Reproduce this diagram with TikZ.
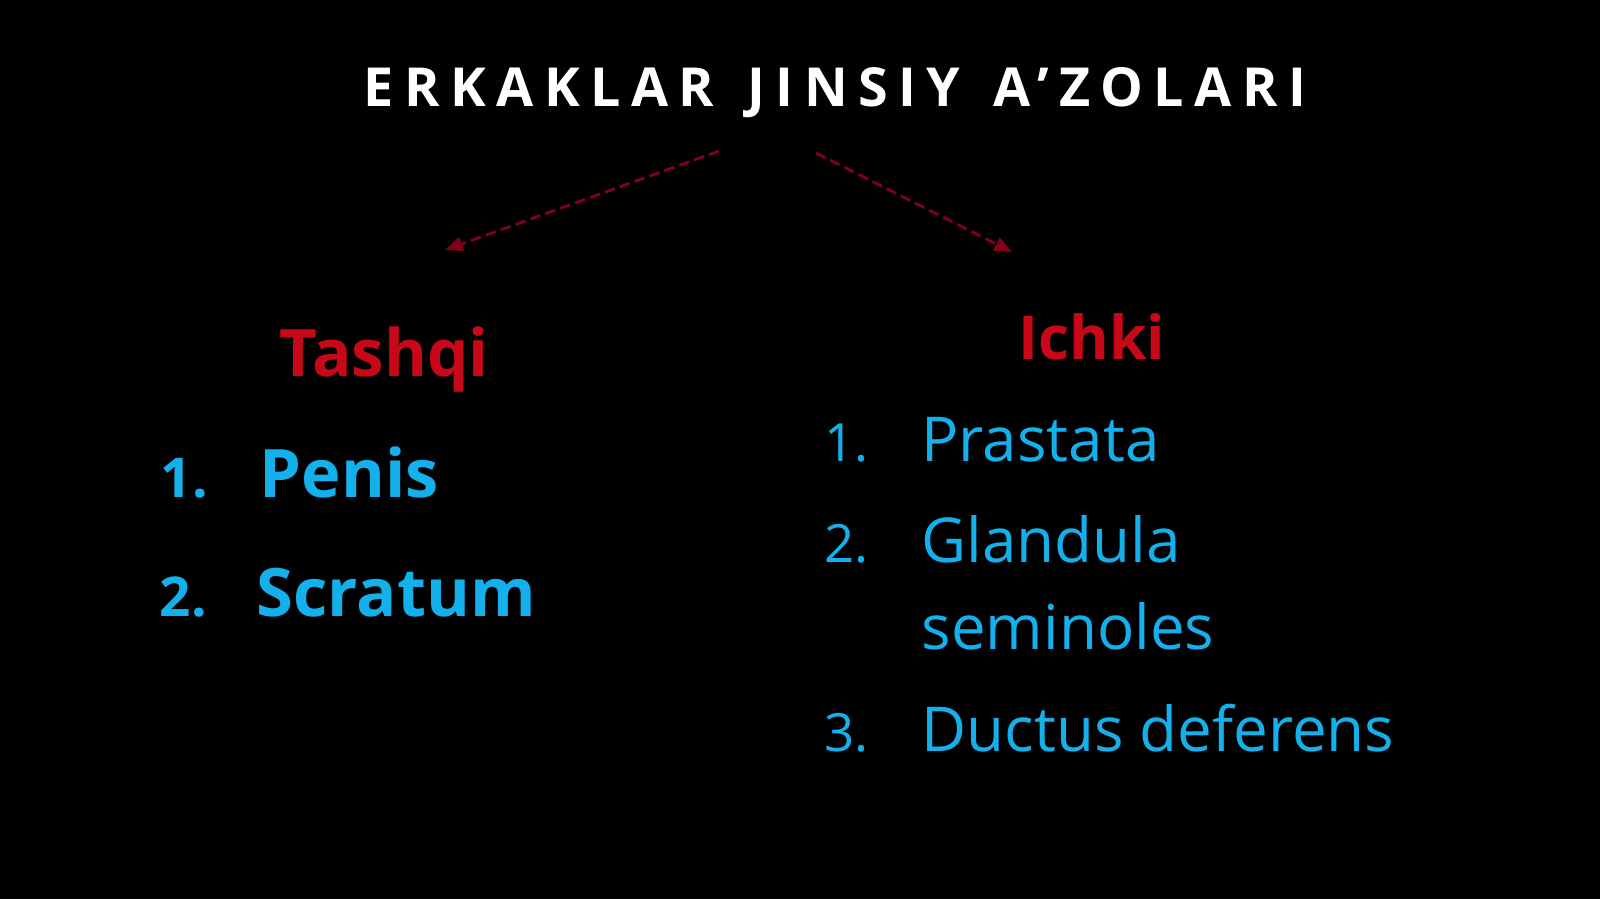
\documentclass[tikz,border=0pt]{standalone}
\usepackage{fontspec}
\setmainfont{Open Sans}
\newfontfamily\titlefont[LetterSpace=19.5,WordSpace=1.35]{Open Sans}
\definecolor{bluetext}{RGB}{20,176,236}
\definecolor{redhead}{RGB}{200,8,24}
\definecolor{arrowred}{RGB}{130,0,28}
\usetikzlibrary{arrows.meta}
\tikzset{
  title/.style={anchor=base, text=white, inner sep=0pt, font=\titlefont\bfseries\fontsize{15.3pt}{18pt}\selectfont},
  head/.style={anchor=base, text=redhead, inner sep=0pt, font=\bfseries\fontsize{18.6pt}{22pt}\selectfont},
  headb/.style={anchor=base, text=redhead, inner sep=0pt, font=\bfseries\fontsize{17.2pt}{22pt}\selectfont},
  numl/.style={anchor=base west, text=bluetext, inner sep=0pt, font=\bfseries\fontsize{15.6pt}{19pt}\selectfont},
  iteml/.style={anchor=base west, text=bluetext, inner sep=0pt, font=\bfseries\fontsize{19pt}{23pt}\selectfont},
  numr/.style={anchor=base west, text=bluetext, inner sep=0pt, font=\fontsize{15pt}{19pt}\selectfont},
  itemr/.style={anchor=base west, text=bluetext, inner sep=0pt, font=\fontsize{17.6pt}{24.7pt}\selectfont},
  conn/.style={draw=arrowred, line width=0.8pt, dash pattern=on 3pt off 1.5pt, -{Triangle[length=5pt,width=4pt]}}
}
\begin{document}
\begin{tikzpicture}[x=0.01cm,y=-0.01cm]
\useasboundingbox (0,0) rectangle (1600,899);
\fill[black] (0,0) rectangle (1600,899);
\node[title] (t) at (835,106) {ERKAKLAR JINSIY A’ZOLARI};
\node[head] (tashqi) at (384,376) {Tashqi};
\node[headb] (ichki) at (1092,359) {Ichki};
\coordinate (l1) at (719,151);
\coordinate (l2) at (445,250);
\coordinate (r1) at (816,153);
\coordinate (r2) at (1012,252);
\draw[conn] (l1) -- (l2);
\draw[conn] (r1) -- (r2);
\node[numl] (n1) at (160,497) {1.};
\node[iteml] (p1) at (259,497) {Penis};
\node[numl] (n2) at (159,616) {2.};
\node[iteml] (p2) at (256,616) {Scratum};
\node[numr] (m1) at (824,461) {1.};
\node[itemr] (q1) at (921,461) {Prastata};
\node[numr] (m2) at (824,562) {2.};
\node[itemr] (q2) at (921,562) {Glandula};
\node[itemr] (q2b) at (921,649) {seminoles};
\node[numr] (m3) at (824,751) {3.};
\node[itemr] (q3) at (921,751) {Ductus deferens};
\end{tikzpicture}
\end{document}
